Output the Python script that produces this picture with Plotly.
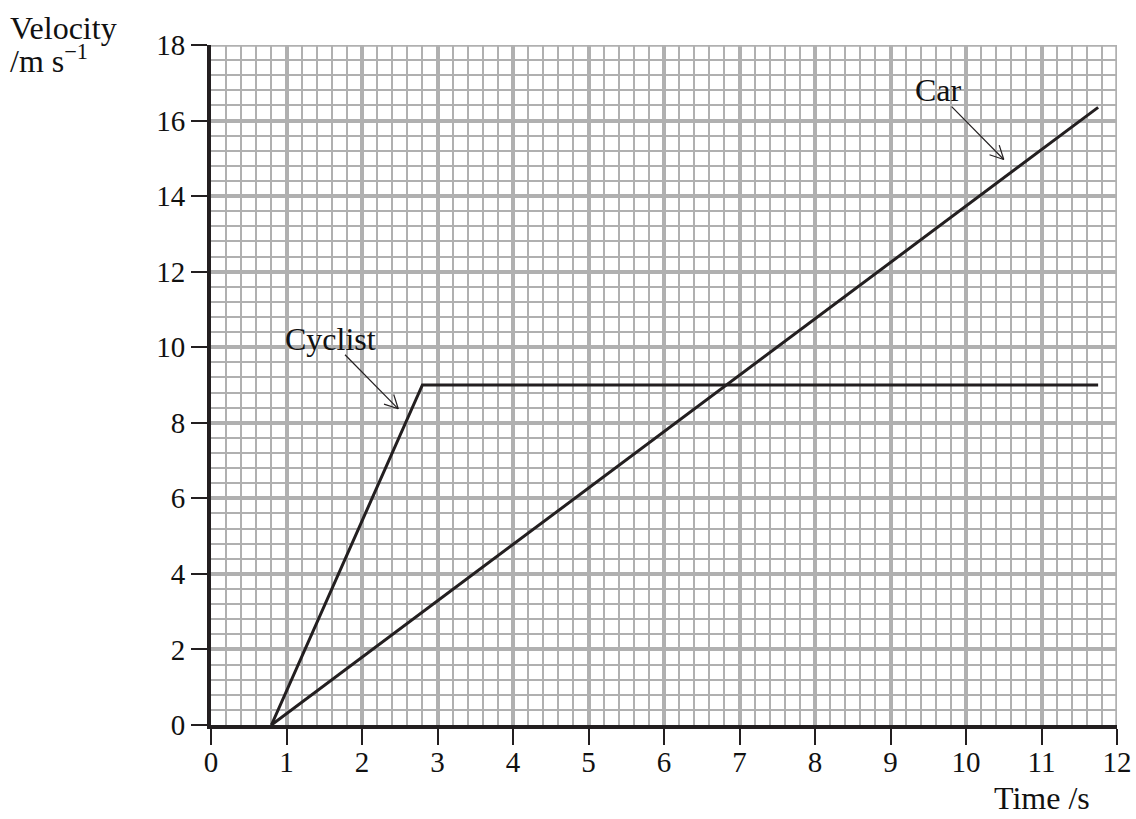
import math
import plotly.graph_objects as go

# Data
cyclist_t = [0.8, 2.8, 11.75]
cyclist_v = [0, 9, 9]
car_t = [0.8, 11.75]
car_v = [0, 16.35]

x_ticks = list(range(0, 13))
y_ticks = list(range(0, 19, 2))

# annotation anchors (data coords): label centre, arrow tail, arrow head
labels = ["Cyclist", "Car"]
label_x = [1.58, 9.63]
label_y = [10.22, 16.8]
tail_x = [1.775, 9.81]
tail_y = [9.8, 16.37]
head_x = [2.48, 10.5]
head_y = [8.37, 14.97]

FONT = "Liberation Serif"
INK = "#231f20"
GRID = "#b0b0b0"

W, H = 1136, 819
ML, MR, MT, MB = 211, 19, 45, 94
XR = [0, 12]
YR = [0, 18]
pw = W - ML - MR
ph = H - MT - MB
sx = pw / (XR[1] - XR[0])  # px per x unit
sy = ph / (YR[1] - YR[0])  # px per y unit

fig = go.Figure()
fig.add_trace(go.Scatter(x=cyclist_t, y=cyclist_v, mode="lines",
                         line=dict(color=INK, width=3), name="Cyclist", showlegend=False))
fig.add_trace(go.Scatter(x=car_t, y=car_v, mode="lines",
                         line=dict(color=INK, width=3), name="Car", showlegend=False))

axis_common = dict(showgrid=True, gridcolor=GRID, gridwidth=3.5,
                   showline=True, linecolor=INK, linewidth=4, zeroline=False,
                   ticks="outside", ticklen=16, tickwidth=1.5, tickcolor=INK,
                   tickfont=dict(family=FONT, size=29, color="#111"), fixedrange=True,
                   automargin=False, ticklabeloverflow="allow")
fig.update_xaxes(range=XR, tickvals=x_ticks, ticktext=[str(v) for v in x_ticks],
                 minor=dict(dtick=0.2, tick0=0, showgrid=True, gridcolor=GRID, gridwidth=2),
                 ticklabelstandoff=-8, **axis_common)
fig.update_yaxes(range=YR, tickvals=y_ticks, ticktext=[str(v) for v in y_ticks],
                 minor=dict(dtick=0.4, tick0=0, showgrid=True, gridcolor=GRID, gridwidth=2),
                 **axis_common)

# border (top/right) in grid grey
fig.add_shape(type="line", xref="x", yref="y", x0=XR[0], x1=XR[1], y0=YR[1], y1=YR[1],
              line=dict(color=GRID, width=3.5), layer="below")
fig.add_shape(type="line", xref="x", yref="y", x0=XR[1], x1=XR[1], y0=YR[0], y1=YR[1],
              line=dict(color=GRID, width=3.5), layer="below")

# labels with thin arrows and open V heads
L, ang = 15, math.radians(27)
for lab, lx, ly, tx, ty, hx, hy in zip(labels, label_x, label_y, tail_x, tail_y, head_x, head_y):
    fig.add_annotation(text=lab, x=lx, y=ly, xref="x", yref="y", showarrow=False,
                       font=dict(family=FONT, size=32, color="#111"))
    fig.add_shape(type="line", xref="x", yref="y", x0=tx, y0=ty, x1=hx, y1=hy,
                  line=dict(color=INK, width=1.2))
    dx, dy = (hx - tx) * sx, (hy - ty) * sy
    n = math.hypot(dx, dy)
    bx, by = -dx / n, -dy / n
    for s in (1, -1):
        c, si = math.cos(s * ang), math.sin(s * ang)
        wx, wy = bx * c - by * si, bx * si + by * c
        fig.add_shape(type="line", xref="x", yref="y", x0=hx, y0=hy,
                      x1=hx + wx * L / sx, y1=hy + wy * L / sy,
                      line=dict(color=INK, width=1.2))

def px_to_paper(px, py_from_top):
    return (px - ML) / pw, (H - py_from_top - MB) / ph

vx, vy = px_to_paper(8, 8)
fig.add_annotation(text="Velocity", x=vx, y=vy,
                   xref="paper", yref="paper", showarrow=False, align="left",
                   xanchor="left", yanchor="top",
                   font=dict(family=FONT, size=32, color="#111"))
ux, uy = px_to_paper(8, 37)
fig.add_annotation(text="/m s<sup>\u22121</sup>", x=ux, y=uy,
                   xref="paper", yref="paper", showarrow=False, align="left",
                   xanchor="left", yanchor="top",
                   font=dict(family=FONT, size=32, color="#111"))
tx_, ty_ = px_to_paper(1092, 818)
fig.add_annotation(text="Time /s", x=tx_, y=ty_, xref="paper", yref="paper",
                   showarrow=False, xanchor="right", yanchor="bottom",
                   font=dict(family=FONT, size=32, color="#111"))

fig.update_layout(width=W, height=H, margin=dict(l=ML, r=MR, t=MT, b=MB),
                  plot_bgcolor="white", paper_bgcolor="white", showlegend=False)

fig.write_html("out.html", config={"displayModeBar": False},
               post_script="document.body.style.margin='0';document.body.style.overflow='hidden';")
